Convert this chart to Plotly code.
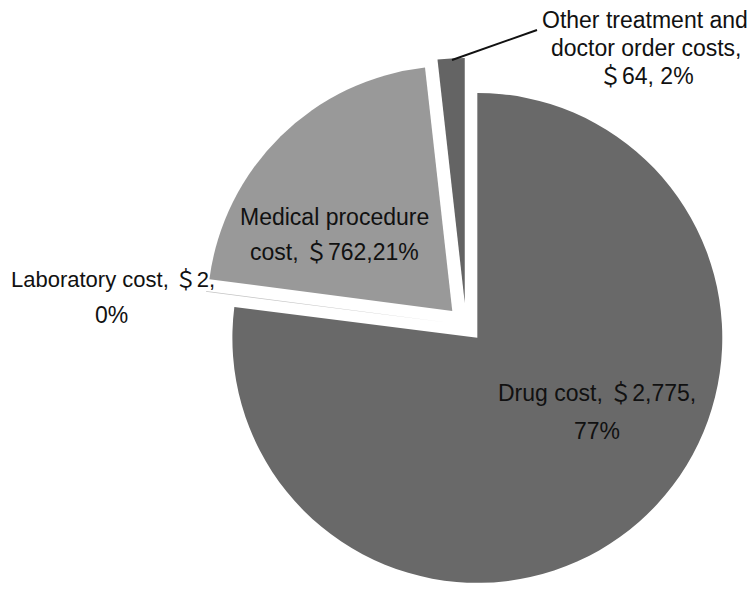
import plotly.graph_objects as go

# Data
categories = ["Drug cost", "Laboratory cost", "Medical procedure cost", "Other treatment and doctor order costs"]
values = [2775, 2, 762, 64]
percents = ["77%", "0%", "21%", "2%"]
colors = ["#696969", "#c4c4c4", "#999999", "#646464"]
pulls = [0.07, 0.07, 0.08, 0.09]

W, H = 756, 592
OFF = 8  # page body margin offset

def px(x, y):
    return (x - OFF) / W, 1 - (y - OFF) / H

dx0, _ = px(199, 0)
dx1, _ = px(733, 0)
_, dy1 = px(0, 58)
_, dy0 = px(0, 592)

fig = go.Figure(go.Pie(
    labels=categories,
    values=values,
    sort=False,
    direction="clockwise",
    rotation=0,
    pull=pulls,
    marker=dict(colors=colors, line=dict(width=0)),
    textinfo="none",
    hoverinfo="label+value+percent",
    showlegend=False,
    domain=dict(x=[dx0, dx1], y=[dy0, dy1]),
))

# Label lines: (text, x_px, y_px, size)
label_lines = [
    ("Medical procedure", 334, 217, 23),
    (f"cost, ＄{values[2]},{percents[2]}", 334, 252, 23),
    (f"Drug cost, ＄{values[0]:,},", 597, 393, 23),
    (percents[0], 597, 431, 23),
    (f"Laboratory cost, ＄{values[1]},", 113, 279, 22),
    (percents[1], 111, 315, 23),
    ("Other treatment and", 645, 20, 23),
    ("doctor order costs,", 646, 48, 23),
    (f"＄{values[3]}, {percents[3]}", 646, 76, 23),
]

annotations = []
for t, x, y, s in label_lines:
    ax, ay = px(x, y)
    annotations.append(dict(
        text=t, x=ax, y=ay, xref="paper", yref="paper",
        xanchor="center", yanchor="middle", showarrow=False,
        font=dict(family="Liberation Sans, Arial, Noto Sans CJK SC, sans-serif", size=s, color="#111111"),
    ))

x0, y0 = px(452, 60)
x1, y1 = px(537, 30)

fig.update_layout(
    width=W, height=H,
    margin=dict(l=0, r=0, t=0, b=0),
    paper_bgcolor="white",
    plot_bgcolor="white",
    annotations=annotations,
    shapes=[dict(type="line", xref="paper", yref="paper", x0=x0, y0=y0, x1=x1, y1=y1,
                 line=dict(color="#111111", width=2))],
)

fig.write_html("out.html")
